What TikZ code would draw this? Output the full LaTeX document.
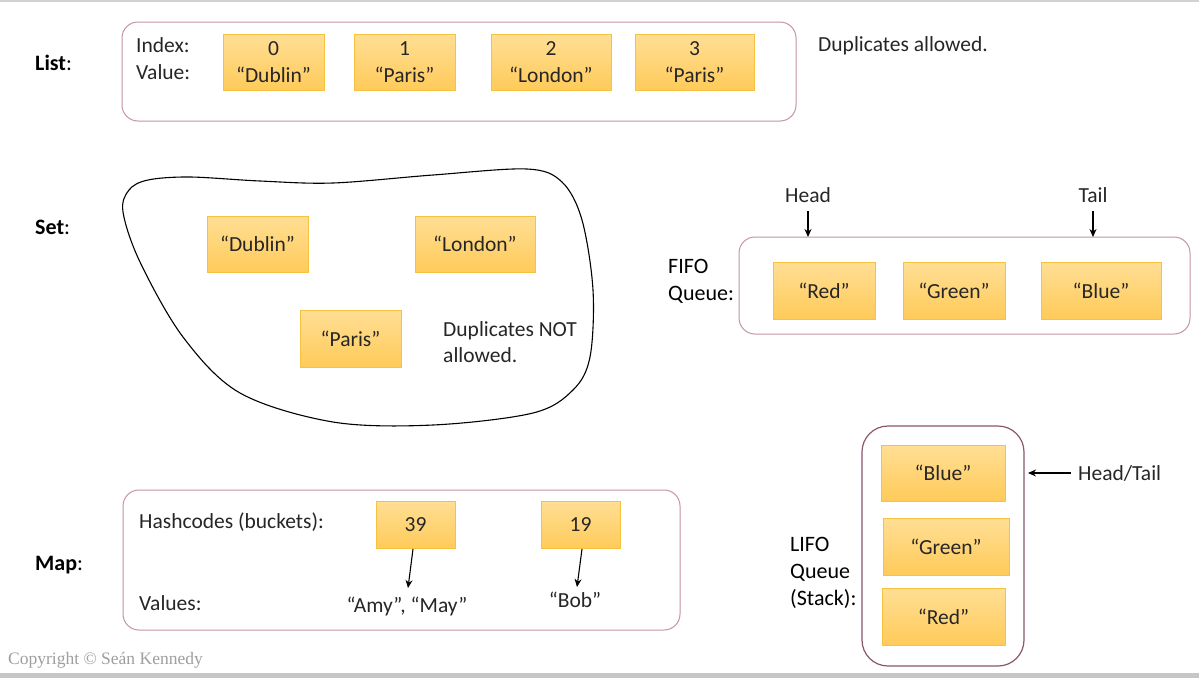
\documentclass[tikz,border=0pt]{standalone}
\usepackage{fontspec}
\setmainfont{Carlito}
\newfontfamily\copyfont{Liberation Serif}
\usetikzlibrary{arrows.meta}
\definecolor{cellborder}{HTML}{F5C242}
\definecolor{celltop}{HTML}{FFDE94}
\definecolor{cellbot}{HTML}{FFCB5A}
\definecolor{contborder}{HTML}{C493AA}
\definecolor{lifoborder}{HTML}{8A5670}
\definecolor{txt}{HTML}{262626}
\tikzset{
  cell/.style={draw=cellborder, line width=0.8pt, top color=celltop, bottom color=cellbot,
    inner sep=0pt, align=center, text=txt, font=\fontsize{21.5}{27}\selectfont},
  cont/.style={draw=contborder, line width=1pt, rounded corners=16pt, inner sep=0pt},
  lbl/.style={inner sep=0pt, anchor=west, text=txt, font=\fontsize{21.5}{26.5}\selectfont, align=left},
  biglbl/.style={inner sep=0pt, anchor=west, text=black, font=\fontsize{22}{27}\selectfont, align=left},
  arr/.style={line width=1.4pt, -{Stealth[length=8pt,width=7pt]}},
}
\begin{document}
\begin{tikzpicture}[x=1pt,y=-1pt]
\useasboundingbox (0,0) rectangle (1199,678);
\fill[white] (0,0) rectangle (1199,678);
% frame lines
\fill[gray!35] (0,0) rectangle (1199,2);
\fill[gray!45] (0,673) rectangle (1199,678);

% ---------- List ----------
\node[biglbl] (listlbl) at (35,63) {\textbf{List}:};
\node[cont, minimum width=674pt, minimum height=99pt] (listbox) at (459,71.5) {};
\node[lbl] (idx) at (136,45) {Index:};
\node[lbl] (val) at (136,72) {Value:};
\node[cell, minimum width=101pt, minimum height=56pt] (l0) at (273.5,62) {0\\“Dublin”};
\node[cell, minimum width=101pt, minimum height=56pt] (l1) at (404.5,62) {1\\“Paris”};
\node[cell, minimum width=120pt, minimum height=56pt] (l2) at (551,62) {2\\“London”};
\node[cell, minimum width=119pt, minimum height=56pt] (l3) at (694.5,62) {3\\“Paris”};
\node[lbl] (dupok) at (818,46) {Duplicates allowed.};

% ---------- Set ----------
\node[biglbl] (setlbl) at (35,227) {\textbf{Set}:};
\draw[line width=1.1pt, black] plot[smooth cycle, tension=0.55] coordinates {
  (123,212) (129,190) (148,180) (190,177) (260,181) (333,183) (433,175) (527,169)
  (562,182) (582,220) (593,290) (590,357) (573,390) (533,413) (433,425)
  (333,422) (240,393) (183,337) (140,262)};
\node[cell, minimum width=101pt, minimum height=56pt] (sd) at (257.5,244) {“Dublin”};
\node[cell, minimum width=120pt, minimum height=56pt] (sl) at (475,244) {“London”};
\node[cell, minimum width=101pt, minimum height=57pt] (sp) at (350.5,338.5) {“Paris”};
\node[lbl] (dupnot) at (443,342) {Duplicates NOT\\allowed.};

% ---------- FIFO ----------
\node[biglbl] (fifolbl) at (668,281) {FIFO\\Queue:};
\node[cont, minimum width=451pt, minimum height=97pt] (fifobox) at (964.5,285.5) {};
\node[cell, minimum width=102pt, minimum height=57pt] (fr) at (824,290.5) {“Red”};
\node[cell, minimum width=102pt, minimum height=57pt] (fg) at (954,290.5) {“Green”};
\node[cell, minimum width=120pt, minimum height=57pt] (fb) at (1101,290.5) {“Blue”};
\node[lbl, anchor=center] (head) at (808,195) {Head};
\node[lbl, anchor=center] (tail) at (1093,195) {Tail};
\coordinate (headend) at (808,237);
\coordinate (tailend) at (1093,237);
\draw[arr] (808,211) -- (headend);
\draw[arr] (1093,211) -- (tailend);

% ---------- Map ----------
\node[biglbl] (maplbl) at (35,565) {\textbf{Map}:};
\node[cont, minimum width=557pt, minimum height=140pt] (mapbox) at (401.5,560) {};
\node[lbl] (hash) at (139,522) {Hashcodes (buckets):};
\node[lbl] (vals) at (139,603) {Values:};
\node[cell, minimum width=79pt, minimum height=47pt] (m39) at (415.5,524.5) {39};
\node[cell, minimum width=79pt, minimum height=47pt] (m19) at (580.5,524.5) {19};
\node[lbl, anchor=center] (amy) at (407,606) {“Amy”, “May”};
\node[lbl, anchor=center] (bob) at (575,600) {“Bob”};
\coordinate (a39s) at (413,549);
\coordinate (a39e) at (408,588);
\coordinate (a19s) at (582,549);
\coordinate (a19e) at (577,587);
\draw[arr, line width=1.1pt] (a39s) -- (a39e);
\draw[arr, line width=1.1pt] (a19s) -- (a19e);

% ---------- LIFO ----------
\node[biglbl] (lifolbl) at (790,573) {LIFO\\Queue\\(Stack):};
\node[draw=lifoborder, line width=1.2pt, rounded corners=26pt, inner sep=0pt,
      minimum width=162pt, minimum height=240pt] (lifobox) at (943,546) {};
\node[cell, minimum width=124pt, minimum height=56pt] (lb) at (943,473) {“Blue”};
\node[cell, minimum width=126pt, minimum height=57pt] (lg) at (946,546.5) {“Green”};
\node[cell, minimum width=123pt, minimum height=57pt] (lr) at (943.5,616.5) {“Red”};
\node[lbl] (ht) at (1078,473) {Head/Tail};
\coordinate (htend) at (1028,473);
\draw[arr] (1071,473) -- (htend);

% ---------- copyright ----------
\node[inner sep=0pt, anchor=west, text=gray!75, font=\copyfont\fontsize{17.5}{20}\selectfont] (copy) at (8,660) {Copyright © Seán Kennedy};
\end{tikzpicture}
\end{document}
